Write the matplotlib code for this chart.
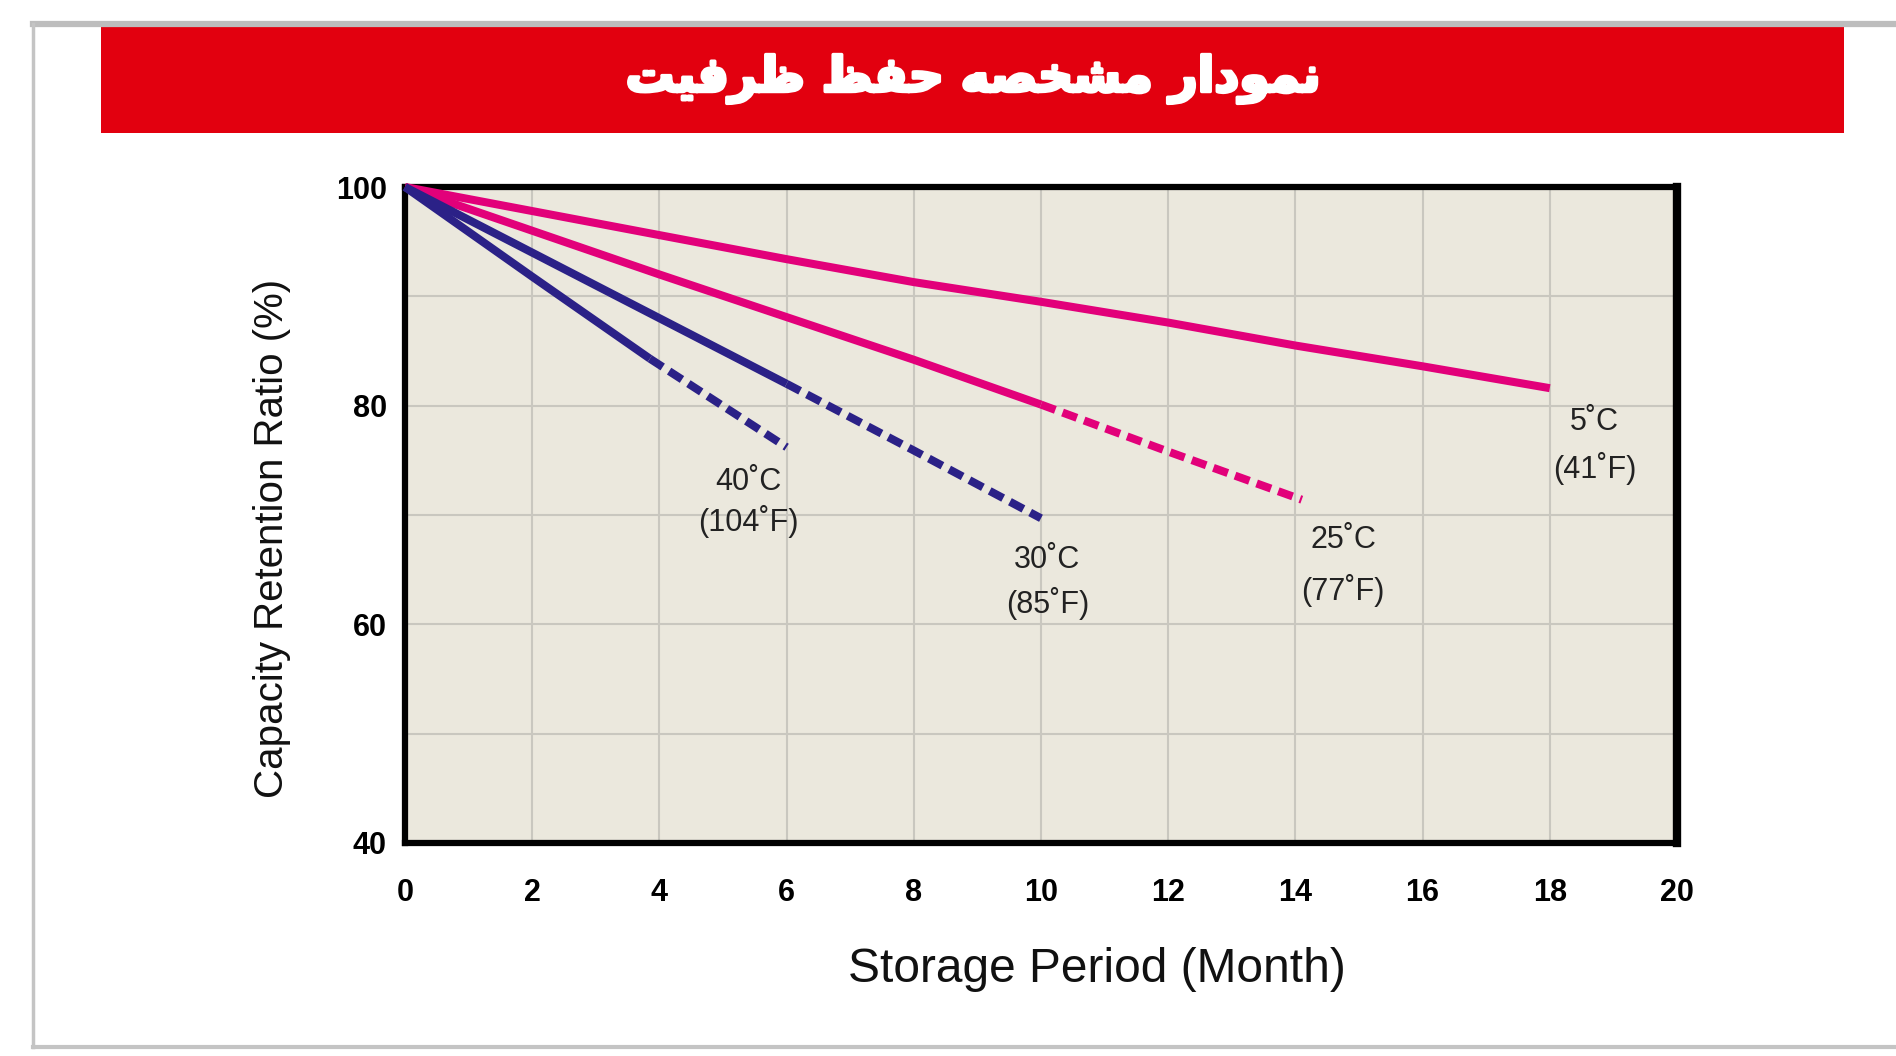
import matplotlib

matplotlib.use("Agg")

import matplotlib.patheffects as pe
import matplotlib.pyplot as plt
from matplotlib.lines import Line2D
from matplotlib.patches import Rectangle

# ---- data ----
months_5c = [0, 2, 4, 6, 8, 10, 12, 14, 16, 18]
retention_5c = [100, 97.8, 95.6, 93.4, 91.3, 89.5, 87.6, 85.5, 83.6, 81.6]

months_25c = [0, 2, 4, 6, 8, 10]
retention_25c = [100, 96.0, 92.0, 88.1, 84.2, 80.1]
months_25c_est = [10, 12, 14.1]
retention_25c_est = [80.1, 75.8, 71.4]

months_30c = [0, 2, 4, 6]
retention_30c = [100, 94.0, 88.0, 82.0]
months_30c_est = [6, 8, 10]
retention_30c_est = [82.0, 75.9, 69.7]

months_40c = [0, 2, 3.85]
retention_40c = [100, 91.8, 84.3]
months_40c_est = [3.85, 6]
retention_40c_est = [84.3, 76.2]

temp_c_labels = ["40˚C", "30˚C", "25˚C", "5˚C"]
temp_f_labels = ["(104˚F)", "(85˚F)", "(77˚F)", "(41˚F)"]

x_ticks = list(range(0, 21, 2))
y_ticks = [40, 60, 80, 100]
y_minor = [50, 70, 90]

title = "نمودار مشخصه حفظ ظرفیت"
x_label = "Storage Period (Month)"
y_label = "Capacity Retention Ratio (%)"

# label placement (data coords)
label_x = [5.4, 10.1, 14.75, 18.7]
label_y_c = [73.0, 65.9, 67.7, 78.5]
label_y_f = [69.4, 61.9, 63.1, 74.3]

PINK = "#e2007a"
NAVY = "#2b2187"

# ---- minimal Arabic shaping (matplotlib does no joining / bidi) ----
DUAL = {
    "ن": "\ufee5\ufee6\ufee7\ufee8",
    "م": "\ufee1\ufee2\ufee3\ufee4",
    "ش": "\ufeb5\ufeb6\ufeb7\ufeb8",
    "خ": "\ufea5\ufea6\ufea7\ufea8",
    "ص": "\ufeb9\ufeba\ufebb\ufebc",
    "ه": "\ufee9\ufeea\ufeeb\ufeec",
    "ح": "\ufea1\ufea2\ufea3\ufea4",
    "ف": "\ufed1\ufed2\ufed3\ufed4",
    "ظ": "\ufec5\ufec6\ufec7\ufec8",
    "ت": "\ufe95\ufe96\ufe97\ufe98",
    "ی": "\ufbfc\ufbfd\ufef3\ufef4",
}
RIGHT = {
    "و": "\ufeed\ufeee",
    "د": "\ufea9\ufeaa",
    "ا": "\ufe8d\ufe8e",
    "ر": "\ufead\ufeae",
}


def shape(text):
    out = []
    for i, ch in enumerate(text):
        prev = text[i - 1] if i > 0 else ""
        nxt = text[i + 1] if i + 1 < len(text) else ""
        to_prev = prev in DUAL
        to_next = nxt in DUAL or nxt in RIGHT
        if ch in DUAL:
            forms = DUAL[ch]
            if to_prev and to_next:
                out.append(forms[3])
            elif to_next:
                out.append(forms[2])
            elif to_prev:
                out.append(forms[1])
            else:
                out.append(forms[0])
        elif ch in RIGHT:
            out.append(RIGHT[ch][1] if to_prev else RIGHT[ch][0])
        else:
            out.append(ch)
    return "".join(reversed(out))


plt.rcParams["font.family"] = ["Liberation Sans", "DejaVu Sans"]

W, H = 1896, 1056
fig = plt.figure(figsize=(W / 100, H / 100), dpi=100)
fig.patch.set_facecolor("white")

# outer grey frame
gray = "#c4c4c4"
fig.add_artist(Line2D([33 / W, 1], [1 - 24 / H, 1 - 24 / H], color="#bdbdbd", lw=4.5))
fig.add_artist(Line2D([33 / W, 33 / W], [1 - 24 / H, 1 - 1047 / H], color=gray, lw=2.5))
fig.add_artist(Line2D([33 / W, 1], [1 - 1047 / H, 1 - 1047 / H], color=gray, lw=3))

# red title banner
fig.add_artist(Rectangle((101 / W, 1 - 133 / H), (1844 - 101) / W, 106 / H,
                         transform=fig.transFigure, color="#e2000f", lw=0))
fig.text(973 / W, 1 - 79 / H, shape(title), family="DejaVu Sans", weight="bold",
         fontsize=35, color="white", ha="center", va="center",
         path_effects=[pe.withStroke(linewidth=2.5, foreground="white")])

ax = fig.add_axes([405 / W, 1 - 843 / H, (1677 - 405) / W, (843 - 187) / H])
ax.set_facecolor("#ebe8dd")
ax.set_xlim(0, 20)
ax.set_ylim(40, 100)

ax.set_xticks(x_ticks)
ax.set_yticks(y_ticks)
ax.set_yticks(y_minor, minor=True)
ax.grid(True, which="both", color="#c9c7bf", lw=1.5)
ax.set_axisbelow(True)
ax.tick_params(which="both", length=0)
ax.tick_params(axis="x", pad=25, labelsize=22)
ax.tick_params(axis="y", pad=13, labelsize=22)
for lab in ax.get_xticklabels() + ax.get_yticklabels():
    lab.set_fontweight("bold")

for side in ["left", "bottom", "top"]:
    ax.spines[side].set_linewidth(4.5)
ax.spines["right"].set_linewidth(6)

solid = dict(lw=5.8, solid_capstyle="butt", clip_on=False, zorder=3)
dashed = dict(lw=5.8, dashes=(1.9, 0.95), dash_capstyle="butt", clip_on=False, zorder=3)

ax.plot(months_5c, retention_5c, color=PINK, **solid)
ax.plot(months_25c, retention_25c, color=PINK, **solid)
ax.plot(months_25c_est, retention_25c_est, color=PINK, **dashed)
ax.plot(months_30c, retention_30c, color=NAVY, **solid)
ax.plot(months_30c_est, retention_30c_est, color=NAVY, **dashed)
ax.plot(months_40c, retention_40c, color=NAVY, **solid)
ax.plot(months_40c_est, retention_40c_est, color=NAVY, **dashed)

for x, yc, yf, tc, tf in zip(label_x, label_y_c, label_y_f, temp_c_labels, temp_f_labels):
    ax.text(x, yc, tc, fontsize=22, color="#222222", ha="center", va="center")
    ax.text(x, yf, tf, fontsize=22, color="#222222", ha="center", va="center")

fig.text(272 / W, 1 - 538 / H, y_label, rotation=90, fontsize=29,
         color="#111111", ha="center", va="center")
fig.text(1097 / W, 1 - 970 / H, x_label, fontsize=34.5,
         color="#111111", ha="center", va="center")

fig.savefig("out.png", dpi=100)
plt.close(fig)
